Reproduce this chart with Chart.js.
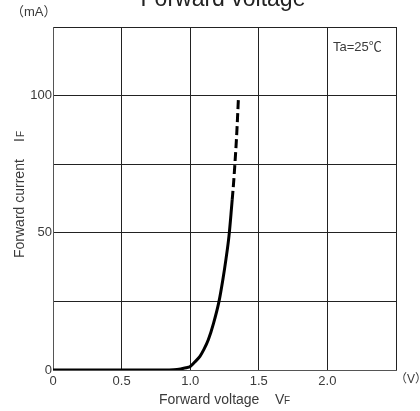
<!DOCTYPE html>
<html>
<head>
<meta charset="utf-8">
<script src="https://cdn.jsdelivr.net/npm/chart.js@4/dist/chart.umd.min.js"></script>
<style>
  html, body { margin: 0; padding: 0; background: #fff; }
  #wrap { width: 420px; height: 411px; position: relative; }
</style>
</head>
<body>
<div id="wrap"><canvas id="c" width="420" height="411"></canvas></div>
<script>
// Measured (solid) part of the forward characteristic
const voltageSolid = [0, 0.5, 0.8, 0.88, 0.93, 0.97, 1.0, 1.035, 1.071, 1.10, 1.132, 1.17, 1.21, 1.237, 1.261, 1.283, 1.301, 1.306];
const currentSolid = [0, 0, 0, 0.1, 0.4, 0.8, 1.3, 3, 5, 7.5, 11, 17, 25, 32.6, 40.5, 49, 59, 62];
// Extrapolated (dashed) part
const voltageDashed = [1.306, 1.316, 1.327, 1.338, 1.345, 1.351];
const currentDashed = [62, 68, 76, 85, 92, 98.5];

const xTicks = [0, 0.5, 1.0, 1.5, 2.0];
const xTickLabels = ['0', '0.5', '1.0', '1.5', '2.0'];
const yTicks = [0, 50, 100];
const yTickLabels = ['0', '50', '100'];

const chartTitle = 'Forward voltage';
const xTitle = 'Forward voltage';
const xTitleSym = 'V';
const xTitleSub = 'F';
const yTitle = 'Forward current';
const yTitleSym = 'I';
const yTitleSub = 'F';
const xUnit = '（V）';
const yUnit = '（mA）';
const note = 'Ta=25℃';

const solidPts = voltageSolid.map((v, i) => ({x: v, y: currentSolid[i]}));
const dashedPts = voltageDashed.map((v, i) => ({x: v, y: currentDashed[i]}));

const FONT = '"Liberation Sans", Arial, "Noto Sans CJK JP", sans-serif';
const TEXT = '#3a3a3a';

const decor = {
  id: 'decor',
  afterDraw(chart) {
    const ctx = chart.ctx;
    const xs = chart.scales.x;
    ctx.save();
    ctx.fillStyle = '#222';
    // Title (cut off at top)
    ctx.font = '23px ' + FONT;
    ctx.textAlign = 'center';
    ctx.textBaseline = 'alphabetic';
    ctx.fillText(chartTitle, 223, 6);

    ctx.fillStyle = TEXT;
    // units
    ctx.font = '13px ' + FONT;
    ctx.textAlign = 'left';
    ctx.textBaseline = 'middle';
    ctx.fillText(yUnit, 11, 12);
    ctx.fillText(note, 333, 47);
    ctx.font = '12px ' + FONT;
    ctx.fillText(xUnit, xs.getPixelForValue(2.5) - 1, 380);

    // x title
    ctx.font = '14px ' + FONT;
    ctx.textBaseline = 'alphabetic';
    ctx.fillText(xTitle, 159, 404);
    ctx.fillText(xTitleSym, 275, 404);
    ctx.font = '10px ' + FONT;
    ctx.fillText(xTitleSub, 284, 404);

    // y title
    ctx.translate(24, 258);
    ctx.rotate(-Math.PI / 2);
    ctx.font = '14px ' + FONT;
    ctx.fillText(yTitle, 0, 0);
    ctx.fillText(yTitleSym, 116, 0);
    ctx.font = '10px ' + FONT;
    ctx.fillText(yTitleSub, 121, 0);
    ctx.restore();
  }
};

new Chart(document.getElementById('c'), {
  type: 'line',
  data: {
    datasets: [
      {
        data: solidPts,
        borderColor: '#000',
        borderWidth: 3,
        pointRadius: 0,
        cubicInterpolationMode: 'monotone',
        fill: false
      },
      {
        data: dashedPts,
        borderColor: '#000',
        borderWidth: 3,
        borderDash: [9, 4],
        pointRadius: 0,
        cubicInterpolationMode: 'monotone',
        fill: false
      }
    ]
  },
  options: {
    responsive: false,
    animation: false,
    layout: { padding: { top: 27, right: 24, left: 0, bottom: 0 } },
    plugins: { legend: { display: false }, tooltip: { enabled: false }, title: { display: false } },
    scales: {
      x: {
        type: 'linear', min: 0, max: 2.5,
        afterFit(s) { s.height = 41; },
        afterBuildTicks(s) { s.ticks = [0, 0.5, 1, 1.5, 2, 2.5].map(v => ({value: v})); },
        ticks: {
          padding: 4, maxRotation: 0, autoSkip: false,
          color: TEXT, font: { family: FONT, size: 13 },
          callback(v) { const i = xTicks.indexOf(v); return i >= 0 ? xTickLabels[i] : ''; }
        },
        grid: { color: '#222', lineWidth: 1, drawTicks: false },
        border: { color: '#555', width: 1 }
      },
      y: {
        type: 'linear', min: 0, max: 125,
        afterFit(s) { s.width = 53; },
        afterBuildTicks(s) { s.ticks = [0, 25, 50, 75, 100, 125].map(v => ({value: v})); },
        ticks: {
          padding: 1, autoSkip: false,
          color: TEXT, font: { family: FONT, size: 13 },
          callback(v) { const i = yTicks.indexOf(v); return i >= 0 ? yTickLabels[i] : ''; }
        },
        grid: { color: '#222', lineWidth: 1, drawTicks: false },
        border: { color: '#555', width: 1 }
      }
    }
  },
  plugins: [decor]
});
</script>
</body>
</html>
